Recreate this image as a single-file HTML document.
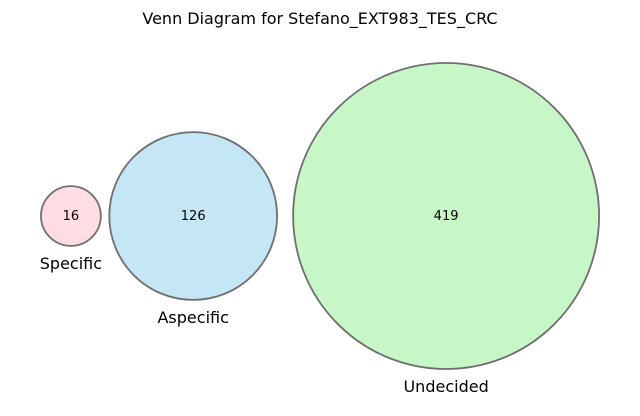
<!DOCTYPE html>
<html><head><meta charset="utf-8"><style>
body{margin:0;background:#fff;}
svg text{font-family:"DejaVu Sans","Liberation Sans",sans-serif;}
</style></head><body>
<svg id="chart" width="640" height="411" viewBox="0 0 640 411">
<text x="320" y="24" text-anchor="middle" font-size="16" fill="#000">Venn Diagram for Stefano_EXT983_TES_CRC</text>
<g id="sets"></g>
</svg>
<script>
const setNames = ["Specific", "Aspecific", "Undecided"];
const setCounts = [16, 126, 419];
const setColors = ["#ffdde3", "#c4e6f5", "#c7f7c7"];
const scaleK = 153 / Math.sqrt(419);
const cy = 216, gaps = [8.5, 16];
const g = document.getElementById('sets');
const ns = "http://www.w3.org/2000/svg";
let prevX = 41, prevR = 0;
setCounts.forEach((v, i) => {
  const r = scaleK * Math.sqrt(v);
  const cx = i === 0 ? 41 + r : prevX + prevR + gaps[i-1] + r;
  prevX = cx; prevR = r;
  const c = document.createElementNS(ns, 'circle');
  
  
  c.setAttribute('cx', cx); c.setAttribute('cy', cy); c.setAttribute('r', r);
  c.setAttribute('fill', setColors[i]); c.setAttribute('stroke', '#6f6f6f'); c.setAttribute('stroke-width', '1.8');
  g.appendChild(c);
  const t = document.createElementNS(ns, 'text');
  
  
  t.setAttribute('x', cx); t.setAttribute('y', cy + 4); t.setAttribute('text-anchor', 'middle'); t.setAttribute('font-size', '13');
  t.textContent = v;
  g.appendChild(t);
  const l = document.createElementNS(ns, 'text');
  
  
  l.setAttribute('x', cx); l.setAttribute('y', cy + r + 23); l.setAttribute('text-anchor', 'middle'); l.setAttribute('font-size', '16');
  l.textContent = setNames[i];
  g.appendChild(l);
});
</script>
</body></html>
